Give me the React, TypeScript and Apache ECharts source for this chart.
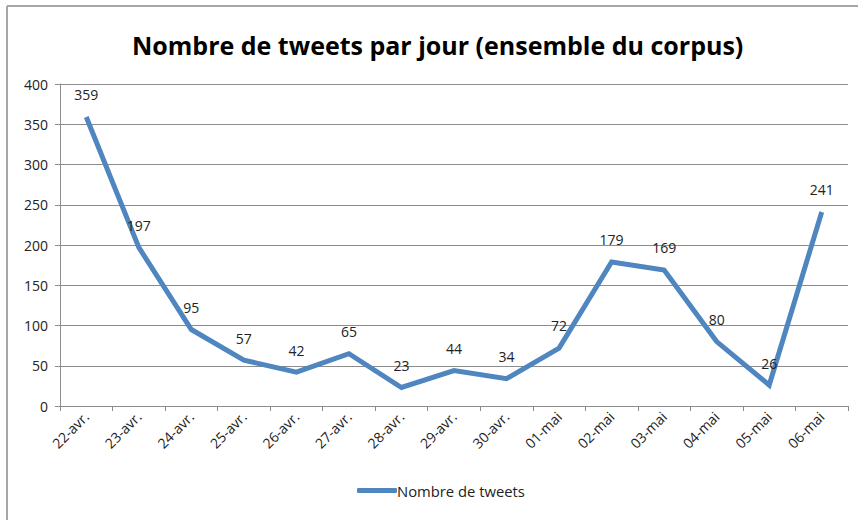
import React, { useEffect, useRef } from "react";
import * as echarts from "echarts";

const categories = ["22-avr.", "23-avr.", "24-avr.", "25-avr.", "26-avr.", "27-avr.", "28-avr.", "29-avr.", "30-avr.", "01-mai", "02-mai", "03-mai", "04-mai", "05-mai", "06-mai"];
const tweets = [359, 197, 95, 57, 42, 65, 23, 44, 34, 72, 179, 169, 80, 26, 241];
const seriesName = "Nombre de tweets";
const titleText = "Nombre de tweets par jour (ensemble du corpus)";

export default function App() {
  const ref = useRef<HTMLDivElement>(null);
  useEffect(() => {
    const chart = echarts.init(ref.current!, null, { renderer: "svg" });
    const font = "'Open Sans', 'Liberation Sans', sans-serif";
    chart.setOption({
      animation: false,
      backgroundColor: "#ffffff",
      textStyle: { fontFamily: font },
      title: {
        text: titleText,
        left: 127,
        top: 27,
        textStyle: { fontFamily: font, fontSize: 25, fontWeight: "bold", color: "#000" },
      },
      graphic: [
        { type: "line", shape: { x1: 7, y1: 6, x2: 858, y2: 6 }, style: { stroke: "#a6a6a6", lineWidth: 2 } },
        { type: "line", shape: { x1: 7, y1: 6, x2: 7, y2: 520 }, style: { stroke: "#a6a6a6", lineWidth: 2 } },
      ],
      legend: {
        bottom: 17,
        left: 352,
        itemWidth: 40,
        itemHeight: 5,
        itemGap: 0,
        icon: "roundRect",
        textStyle: { fontFamily: font, fontSize: 14.8, color: "#222", padding: [0, 0, 0, -5] },
        data: [seriesName],
      },
      grid: { left: 60, right: 10, top: 84, bottom: 114, containLabel: false },
      xAxis: {
        type: "category",
        data: categories,
        boundaryGap: true,
        axisLine: { lineStyle: { color: "#8c8c8c", width: 1 } },
        axisTick: { show: true, alignWithLabel: false, length: 5, lineStyle: { color: "#8c8c8c" } },
        axisLabel: { rotate: 45, fontSize: 14, color: "#222", margin: 8, fontFamily: font, interval: 0 },
      },
      yAxis: {
        type: "value",
        min: 0,
        max: 400,
        interval: 50,
        axisLine: { show: true, lineStyle: { color: "#8c8c8c", width: 1 } },
        axisTick: { show: true, length: 5, lineStyle: { color: "#8c8c8c" } },
        splitLine: { lineStyle: { color: "#8c8c8c", width: 1 } },
        axisLabel: { fontSize: 14, color: "#222", margin: 12, fontFamily: font },
      },
      series: [
        {
          name: seriesName,
          type: "line",
          data: tweets,
          symbol: "circle",
          symbolSize: 0.1,
          showSymbol: true,
          lineStyle: { color: "#4f86c0", width: 5, join: "miter" },
          itemStyle: { color: "#4f86c0" },
          label: { show: true, position: "top", distance: 15, fontSize: 14, color: "#222", fontFamily: font },
          labelLayout: { hideOverlap: false },
        },
      ],
    });
    return () => chart.dispose();
  }, []);
  return <div ref={ref} style={{ width: 858, height: 520, position: "absolute", left: 0, top: 0 }} />;
}
